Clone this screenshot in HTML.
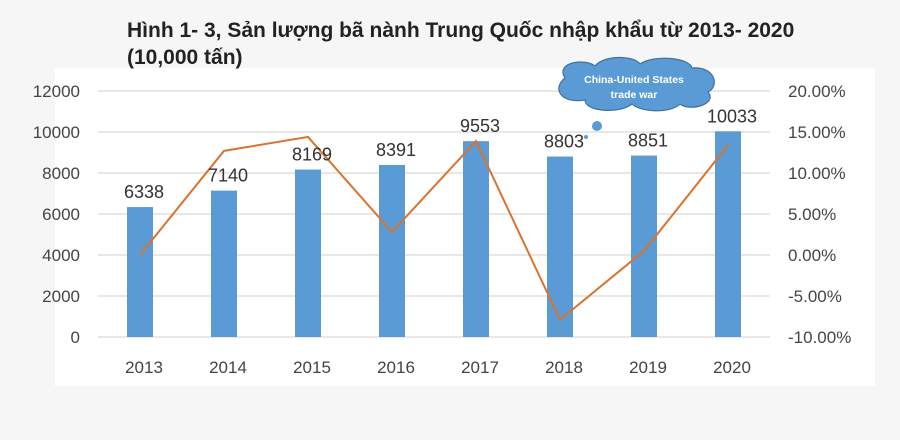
<!DOCTYPE html>
<html><head><meta charset="utf-8"><style>
body{margin:0;width:900px;height:440px;background:#f6f6f6;overflow:hidden;font-family:"Liberation Sans",sans-serif}
svg{display:block}
</style></head><body>
<svg width="900" height="440">
<rect x="55" y="68" width="820" height="318" fill="#ffffff"/>
<text x="127" y="37" font-size="21" font-weight="bold" fill="#222">Hình 1- 3, Sản lượng bã nành Trung Quốc nhập khẩu từ 2013- 2020</text>
<text x="127" y="64" font-size="21" font-weight="bold" fill="#222">(10,000 tấn)</text>
<g id="grid"></g><g id="bars"></g><g id="line"></g><g id="labels"></g>
<g>
<path d="M565,78 C555,62 585,58 595,66 C605,54 635,56 640,64 C655,54 690,58 692,68 C715,66 720,86 708,92 C718,104 690,112 680,104 C670,114 640,112 632,104 C620,114 585,112 585,100 C560,104 552,88 565,78 Z" fill="#5b9bd5" stroke="#41719c" stroke-width="1.2"/>
<text x="634" y="83" font-size="10.5" font-weight="bold" fill="#fff" text-anchor="middle">China-United States</text>
<text x="634" y="98" font-size="10.5" font-weight="bold" fill="#fff" text-anchor="middle">trade war</text>
<circle cx="597" cy="126" r="5" fill="#5b9bd5"/>
<circle cx="586" cy="137" r="2" fill="#5b9bd5"/>
</g>
</svg>
<script>
const years=["2013","2014","2015","2016","2017","2018","2019","2020"];
const volumes=[6338,7140,8169,8391,9553,8803,8851,10033];
const growth=[0.0,12.7,14.4,2.8,13.9,-7.9,0.5,13.4];
const leftTicks=[0,2000,4000,6000,8000,10000,12000];
const rightTicks=[-10,-5,0,5,10,15,20];
const ns="http://www.w3.org/2000/svg";
const y0=337,y1=91,x0=98,x1=770;
const yL=v=>y0-(v/12000)*(y0-y1);
const yR=v=>y0-((v+10)/30)*(y0-y1);
const step=(x1-x0)/years.length;
const xC=i=>x0+step*(i+0.5);
function mk(t,a,p){const e=document.createElementNS(ns,t);for(const k in a)e.setAttribute(k,a[k]);p.appendChild(e);return e;}
const grid=document.getElementById('grid'),bars=document.getElementById('bars'),line=document.getElementById('line'),labels=document.getElementById('labels');
leftTicks.forEach((v,i)=>{
 const l=mk('line',{x1:x0,x2:x1,y1:yL(v),y2:yL(v),stroke:'#e0e0e0','stroke-width':1.5},grid);
 
 
 const t=mk('text',{x:80,y:yL(v)+6,'font-size':17,fill:'#444','text-anchor':'end'},grid);t.textContent=v;
 
 
});
rightTicks.forEach(v=>{
 const t=mk('text',{x:788,y:yR(v)+6,'font-size':17,fill:'#444'},grid);t.textContent=v.toFixed(2)+'%';
 
 
});
years.forEach((y,i)=>{
 const r=mk('rect',{x:xC(i)-13,y:yL(volumes[i]),width:26,height:y0-yL(volumes[i]),fill:'#5b9bd5'},bars);
 
 
 const t=mk('text',{x:xC(i)+4,y:373,'font-size':17,fill:'#444','text-anchor':'middle'},labels);t.textContent=y;
 
 
 const v=mk('text',{x:xC(i)+4,y:yL(volumes[i])-9,'font-size':18,fill:'#333','text-anchor':'middle'},labels);v.textContent=volumes[i];
 
 
});
const p=mk('polyline',{points:growth.map((g,i)=>xC(i)+','+yR(g)).join(' '),fill:'none',stroke:'#d9732f','stroke-width':2},line);


</script>
</body></html>
